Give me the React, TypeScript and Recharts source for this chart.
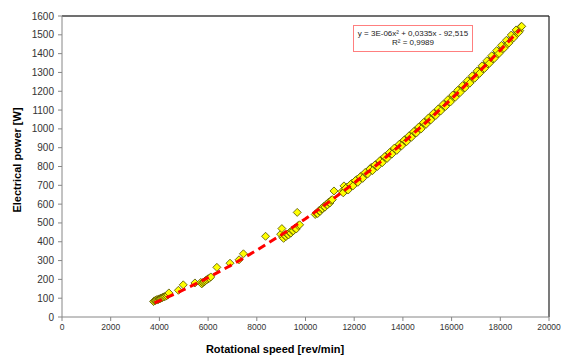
import React from "react";
import {
  ScatterChart,
  Scatter,
  XAxis,
  YAxis,
  ReferenceLine,
} from "recharts";

// measured points: [rev/min, W]
const lowSpeed: [number, number][] = [
  [3760, 82], [3800, 86], [3840, 88], [3880, 90], [3900, 93], [3950, 92],
  [3980, 96], [4020, 97], [4050, 99], [4080, 101], [4120, 103], [4160, 106],
  [4200, 108], [4250, 110], [4300, 113], [4350, 118], [4390, 128],
  [4780, 142], [4980, 171], [5460, 181], [5700, 184], [5740, 176], [5780, 182],
  [5820, 186], [5860, 190], [5900, 194], [5950, 198], [6000, 203], [6050, 206],
  [6110, 213], [6360, 264], [6900, 286], [7270, 304], [7450, 336], [8360, 429],
];

const midSpeed: [number, number][] = [
  [8980, 440], [9030, 470], [9060, 425], [9100, 418], [9150, 433], [9200, 428],
  [9250, 440], [9300, 436], [9350, 450], [9400, 446], [9450, 460], [9500, 458],
  [9560, 472], [9620, 468], [9660, 556], [9700, 486], [9760, 490],
  [10400, 545], [10450, 552], [10500, 550], [10550, 565], [10600, 562],
  [10650, 575], [10700, 576], [10750, 588], [10800, 584], [10850, 598],
  [10900, 596], [10950, 610], [11000, 606], [11050, 620], [11100, 624],
  [11170, 670], [11580, 697],
];

const highSpeed: [number, number][] = [
  [11500, 668], [11600, 670], [11700, 690], [11800, 688], [11900, 710], [12000, 708],
  [12100, 730], [12200, 728], [12300, 750], [12400, 748], [12500, 770], [12600, 770],
  [12700, 795], [12800, 790], [12900, 812], [13000, 811], [13100, 835], [13200, 832],
  [13300, 856], [13400, 853], [13500, 878], [13600, 885], [13700, 898], [13800, 899],
  [13900, 922], [14000, 920], [14100, 945], [14200, 944], [14300, 966], [14400, 965],
  [14500, 990], [14600, 988], [14700, 1012], [14800, 1011], [14900, 1036], [15000, 1035],
  [15100, 1060], [15200, 1058], [15300, 1083], [15400, 1082], [15500, 1107], [15600, 1106],
  [15700, 1131], [15800, 1130], [15900, 1156], [16000, 1155], [16100, 1180], [16200, 1180],
  [16300, 1205], [16400, 1204], [16500, 1230], [16600, 1229], [16700, 1255], [16800, 1255],
  [16900, 1281], [17000, 1280], [17100, 1307], [17200, 1306], [17300, 1333], [17400, 1332],
  [17500, 1359], [17600, 1358], [17700, 1386], [17800, 1385], [17900, 1412], [18000, 1412],
  [18100, 1439], [18200, 1438], [18300, 1466], [18400, 1466], [18500, 1493], [18600, 1494],
  [18700, 1521], [18800, 1522],
  [11550, 660], [11650, 684], [11750, 675], [11850, 705], [11950, 697], [12050, 725],
  [12150, 716], [12250, 745], [12350, 737], [12450, 768], [12550, 760], [12650, 787],
  [12750, 778], [12850, 808], [12950, 800], [13050, 830], [13150, 820], [13250, 852],
  [13350, 843], [13450, 874], [13550, 866], [13650, 898], [13750, 886], [13850, 918],
  [13950, 910], [14050, 940], [14150, 932], [14250, 963], [14350, 955], [14450, 986],
  [14550, 978], [14650, 1010], [14750, 1000], [14850, 1034], [14950, 1024], [15050, 1058],
  [15150, 1048], [15250, 1082], [15350, 1071], [15450, 1106], [15550, 1095], [15650, 1130],
  [15750, 1119], [15850, 1155], [15950, 1143], [16050, 1180], [16150, 1168], [16250, 1205],
  [16350, 1193], [16450, 1230], [16550, 1218], [16650, 1256], [16750, 1243], [16850, 1282],
  [16950, 1269], [17050, 1308], [17150, 1295], [17250, 1335], [17350, 1321], [17450, 1362],
  [17550, 1348], [17650, 1389], [17750, 1374], [17850, 1416], [17950, 1401], [18050, 1444],
  [18150, 1428], [18250, 1471], [18350, 1456], [18450, 1499], [18550, 1484], [18650, 1526],
  [18750, 1512], [18850, 1543], [18880, 1545],
];

// polynomial trendline
const trendSpeed = [3800, 4500, 5000, 6000, 7000, 8000, 9000, 10000, 11000, 12000, 13000, 14000, 15000, 16000, 17000, 18000, 18800];
const trendPower = [75, 115, 145, 209, 279, 355, 436, 522, 615, 712, 816, 925, 1040, 1160, 1286, 1418, 1527];

const xTicks = [0, 2000, 4000, 6000, 8000, 10000, 12000, 14000, 16000, 18000, 20000];
const yTicks = [0, 100, 200, 300, 400, 500, 600, 700, 800, 900, 1000, 1100, 1200, 1300, 1400, 1500, 1600];

const points = [...lowSpeed, ...midSpeed, ...highSpeed].map(([x, y]) => ({ x, y }));
const trend = trendSpeed.map((x, i) => ({ x, y: trendPower[i] }));

const Diamond = (props: any) => {
  const { cx, cy } = props;
  if (cx == null || cy == null) return <g />;
  const r = 4;
  return (
    <polygon
      points={`${cx},${cy - r} ${cx + r},${cy} ${cx},${cy + r} ${cx - r},${cy}`}
      fill="#FFFF00"
      stroke="#4D4D00"
      strokeWidth={0.8}
    />
  );
};

const font = "'Liberation Sans', Arial, sans-serif";

export default function App() {
  return (
    <div style={{ position: "absolute", left: 0, top: 0, width: 562, height: 356, background: "#fff", fontFamily: font }}>
      <ScatterChart width={562} height={356} margin={{ top: 16, right: 13, bottom: 0, left: 0 }}>
        <XAxis
          type="number"
          dataKey="x"
          domain={[0, 20000]}
          ticks={xTicks}
          height={39}
          stroke="#868686"
          tickSize={4}
          tickMargin={3}
          tick={{ fontSize: 8.5, fill: "#333", fontFamily: font }}
          allowDataOverflow
        />
        <YAxis
          type="number"
          dataKey="y"
          domain={[0, 1600]}
          ticks={yTicks}
          width={62}
          stroke="#868686"
          tickSize={4}
          tickMargin={4}
          tick={{ fontSize: 10, fill: "#333", fontFamily: font }}
          allowDataOverflow
        />
        <ReferenceLine y={1600} stroke="#404040" strokeWidth={1.5} />
        <ReferenceLine x={20000} stroke="#222" strokeWidth={1.2} />
        <Scatter data={points} shape={Diamond} isAnimationActive={false} />
        <Scatter
          data={trend}
          shape={() => <g />}
          line={{ stroke: "#FF0000", strokeWidth: 3, strokeDasharray: "8 5" }}
          lineType="joint"
          isAnimationActive={false}
        />
      </ScatterChart>

      <div
        style={{
          position: "absolute",
          left: 353,
          top: 25,
          width: 120,
          height: 27,
          border: "1px solid #FF7F7F",
          fontSize: 8,
          lineHeight: "8.5px",
          color: "#222",
          textAlign: "center",
          paddingTop: 4,
          boxSizing: "border-box",
          background: "#fff",
        }}
      >
        <div>y = 3E-06x² + 0,0335x - 92,515</div>
        <div>R² = 0,9989</div>
      </div>

      <div
        style={{
          position: "absolute",
          left: 17,
          top: 160,
          transform: "translate(-50%, -50%) rotate(-90deg)",
          whiteSpace: "nowrap",
          fontSize: 11,
          fontWeight: "bold",
          color: "#000",
        }}
      >
        Electrical power [W]
      </div>
      <div
        style={{
          position: "absolute",
          left: 275,
          top: 349,
          transform: "translate(-50%, -50%)",
          whiteSpace: "nowrap",
          fontSize: 11,
          fontWeight: "bold",
          color: "#000",
        }}
      >
        Rotational speed [rev/min]
      </div>
    </div>
  );
}
